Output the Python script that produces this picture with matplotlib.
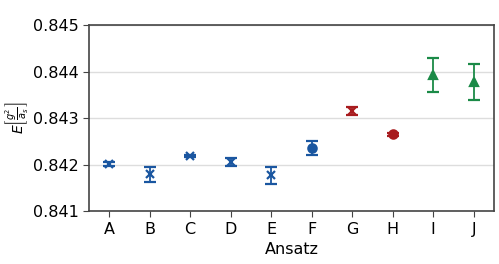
import numpy as np
import matplotlib.pyplot as plt

## data
labels = ['A', 'B', 'C', 'D', 'E', 'F', 'G', 'H', 'I', 'J']
energy = [0.84201, 0.84179, 0.84219, 0.84206, 0.84177, 0.84236, 0.84315, 0.84265, 0.84393, 0.84378]
errors = [0.00004, 0.00016, 0.00002, 0.00008, 0.00019, 0.00015, 0.00008, 0.00004, 0.00036, 0.00039]
markers = ['x', 'x', 'x', 'x', 'x', 'o', 'x', 'o', '^', '^']
colors = ['#1a56a0'] * 6 + ['#a81b1e'] * 2 + ['#1b8a47'] * 2

plt.rcParams['font.family'] = 'DejaVu Sans'
plt.rcParams['mathtext.fontset'] = 'dejavusans'

fig, ax = plt.subplots(figsize=(4.99, 2.64), dpi=100)
fig.subplots_adjust(left=0.178, right=0.99, top=0.905, bottom=0.2)

x = np.arange(len(labels))
for i in range(len(labels)):
    ax.errorbar(x[i], energy[i], yerr=errors[i], fmt=markers[i], color=colors[i],
                markersize=6, markeredgewidth=1.6, elinewidth=1.3, capsize=4.5, capthick=1.3)

## axes styling
ax.set_xlim(-0.5, 9.5)
ax.set_ylim(0.841, 0.845)
ax.set_yticks([0.841, 0.842, 0.843, 0.844, 0.845])
ax.set_xticks(x)
ax.set_xticklabels(labels)
ax.tick_params(labelsize=11.5, color='#444444', length=4)
ax.grid(axis='y', color='#dddddd', linewidth=1)
ax.set_axisbelow(True)
for s in ax.spines.values():
    s.set_color('#444444')
    s.set_linewidth(1.2)

ax.set_xlabel('Ansatz', fontsize=11.5)
ax.set_ylabel(r'$E\left[\frac{g^2}{a_s}\right]$', fontsize=10, labelpad=2)

plt.savefig('out.png', dpi=100)
